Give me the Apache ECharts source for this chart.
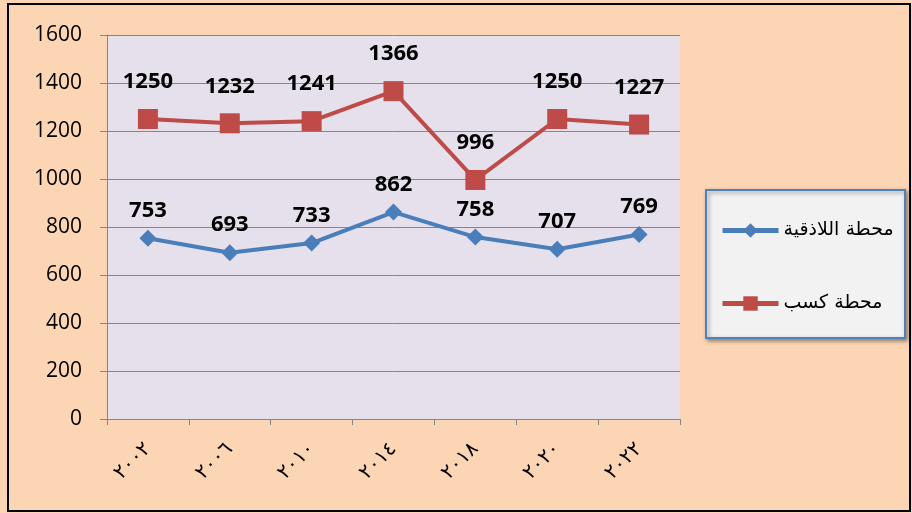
<!DOCTYPE html>
<html><head><meta charset="utf-8">
<script src="https://cdn.jsdelivr.net/npm/echarts@6/dist/echarts.min.js"></script>
<style>html,body{margin:0;padding:0;background:#fcd5b5}#c{width:912px;height:513px}</style>
</head><body><div id="c"></div>
<script>
const categories = ['٢٠٠٢','٢٠٠٦','٢٠١٠','٢٠١٤','٢٠١٨','٢٠٢٠','٢٠٢٢'];
const latakiaName = 'محطة اللاذقية';
const latakia = [753, 693, 733, 862, 758, 707, 769];
const kasabName = 'محطة كسب';
const kasab = [1250, 1232, 1241, 1366, 996, 1250, 1227];
const yTicks = {min: 0, max: 1600, interval: 200};

const chart = echarts.init(document.getElementById('c'));
const lblStyle = {show: true, position: 'top', fontSize: 22, fontWeight: 'bold', color: '#000', fontFamily: 'Open Sans'};
chart.setOption({
  backgroundColor: '#fcd5b5',
  animation: false,
  graphic: [
    {type: 'rect', shape: {x: 8, y: 4, width: 902, height: 507}, style: {fill: 'none', stroke: '#000', lineWidth: 2}, z: 100},
    {type: 'rect', shape: {x: 706, y: 190, width: 199, height: 148}, style: {fill: '#f2f2f2', stroke: '#4f81bd', lineWidth: 2, shadowBlur: 4, shadowOffsetX: 2, shadowOffsetY: 2, shadowColor: 'rgba(0,0,0,0.4)'}, z: 1}
  ],
  grid: {left: 107, right: 232, top: 35, bottom: 94, show: true, backgroundColor: '#e6e0ec', borderWidth: 0},
  legend: {
    orient: 'vertical', left: 715, top: 216, itemGap: 54, itemWidth: 56, itemHeight: 18,
    lineStyle: {width: 5},
    textStyle: {fontSize: 19, color: '#000', fontFamily: 'DejaVu Sans'},
    data: [latakiaName, kasabName], z: 5
  },
  xAxis: {
    type: 'category', data: categories, boundaryGap: true,
    axisLine: {lineStyle: {color: '#868686', width: 1}},
    axisTick: {show: true, length: 6, lineStyle: {color: '#868686'}},
    axisLabel: {rotate: 45, fontSize: 20, color: '#000', margin: 27, fontFamily: 'DejaVu Sans'}
  },
  yAxis: {
    type: 'value', min: yTicks.min, max: yTicks.max, interval: yTicks.interval,
    axisLine: {show: true, lineStyle: {color: '#868686'}},
    axisTick: {show: true, length: 7, lineStyle: {color: '#868686'}},
    splitLine: {lineStyle: {color: '#868686', width: 1}},
    axisLabel: {fontSize: 21, color: '#000', margin: 25, fontFamily: 'Open Sans', formatter: v => String(v)}
  },
  series: [
    {name: latakiaName, type: 'line', data: latakia, symbol: 'diamond', symbolSize: 17,
     lineStyle: {color: '#4a7ebb', width: 4}, itemStyle: {color: '#4a7ebb'},
     label: Object.assign({distance: 8}, lblStyle)},
    {name: kasabName, type: 'line', data: kasab, symbol: 'rect', symbolSize: 20,
     lineStyle: {color: '#be4b48', width: 4}, itemStyle: {color: '#be4b48'},
     label: Object.assign({distance: 16}, lblStyle)}
  ]
});
</script></body></html>
